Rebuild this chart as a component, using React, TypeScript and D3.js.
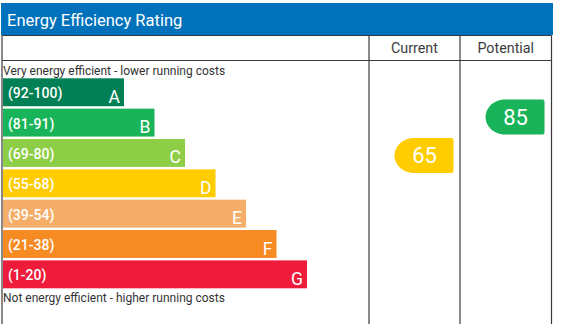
import React, { useEffect, useRef } from 'react';
import * as d3 from 'd3';

// rating bands, best to worst
const letters = ['A', 'B', 'C', 'D', 'E', 'F', 'G'];
const ranges = ['(92-100)', '(81-91)', '(69-80)', '(55-68)', '(39-54)', '(21-38)', '(1-20)'];
const colors = ['#008054', '#19b459', '#8dce46', '#ffcc00', '#f4ae6a', '#f68a23', '#ef1b3b'];

// the two ratings shown on the right
const ratingColumns = ['Current', 'Potential'];
const ratingValues = [65, 85];
const ratingLetters = ['D', 'B'];

const title = 'Energy Efficiency Rating';
const topNote = 'Very energy efficient - lower running costs';
const bottomNote = 'Not energy efficient - higher running costs';

const W = 566;
const H = 324;
const FONT = 'Roboto, "Noto Sans", sans-serif';

function EpcChart() {
  const svgRef = useRef<SVGSVGElement>(null);

  useEffect(() => {
    const svg = d3.select(svgRef.current);
    svg.selectAll('*').remove();

    const left = 2;
    const right = 551.5;
    const colX = [369, 460];
    const headTop = 35.5;
    const headBottom = 60.5;
    const lineColor = '#3a3a3a';

    // title bar
    svg.append('rect')
      .attr('x', 1).attr('y', 3)
      .attr('width', 552).attr('height', 32)
      .attr('fill', '#0072bb');
    svg.append('text')
      .attr('x', 7).attr('y', 26)
      .attr('fill', '#fff')
      .attr('font-family', FONT)
      .attr('font-size', 16.5)
      .text(title);

    // table lines
    const g = svg.append('g').attr('stroke', lineColor).attr('stroke-width', 1.2);
    g.append('line').attr('x1', left).attr('x2', right).attr('y1', headTop).attr('y2', headTop);
    g.append('line').attr('x1', left).attr('x2', right).attr('y1', headBottom).attr('y2', headBottom);
    [left, ...colX, right].forEach(x => {
      g.append('line').attr('x1', x).attr('x2', x).attr('y1', headTop).attr('y2', H);
    });

    // column headers
    const colCenters = [(colX[0] + colX[1]) / 2, (colX[1] + right) / 2];
    svg.selectAll('text.col')
      .data(ratingColumns)
      .join('text')
      .attr('class', 'col')
      .attr('x', (d, i) => colCenters[i])
      .attr('y', 52.5)
      .attr('text-anchor', 'middle')
      .attr('fill', '#3c3c3c')
      .attr('font-family', FONT)
      .attr('font-size', 14.3)
      .text(d => d);

    // notes
    svg.append('text')
      .attr('x', 3).attr('y', 75)
      .attr('fill', '#333')
      .attr('font-family', FONT)
      .attr('font-size', 12)
      .text(topNote);
    svg.append('text')
      .attr('x', 3).attr('y', 302)
      .attr('fill', '#333')
      .attr('font-family', FONT)
      .attr('font-size', 12)
      .text(bottomNote);

    // bands
    const y = d3.scaleBand<string>()
      .domain(letters)
      .range([78.3, 288.3])
      .paddingInner(0.08)
      .paddingOuter(0);
    const xRight = d3.scaleLinear()
      .domain([0, letters.length - 1])
      .range([124, 307]);

    const bands = svg.append('g')
      .selectAll('g')
      .data(letters)
      .join('g');

    bands.append('rect')
      .attr('x', 3)
      .attr('y', d => y(d)!)
      .attr('width', (d, i) => xRight(i) - 3)
      .attr('height', y.bandwidth())
      .attr('fill', (d, i) => colors[i]);

    bands.append('text')
      .attr('x', 8)
      .attr('y', d => y(d)! + 20)
      .attr('fill', '#fff')
      .attr('font-family', FONT)
      .attr('font-weight', 500)
      .attr('font-size', 14)
      .text((d, i) => ranges[i]);

    bands.append('text')
      .attr('x', (d, i) => xRight(i) - 4)
      .attr('y', d => y(d)! + 24.5)
      .attr('text-anchor', 'end')
      .attr('fill', '#fff')
      .attr('font-family', FONT)
      .attr('font-size', 17.5)
      .text(d => d);

    // rating arrows
    const ry = d3.scaleLinear().domain([100, 0]).range([88, 280.5]);
    const aw = 59;
    const ah = 35;
    const arrowPath = (x0: number, cy: number) => {
      const t = cy - ah / 2;
      const b = cy + ah / 2;
      const x1 = x0 + aw;
      const r = 2;
      return `M${x0 + 20},${t} L${x1 - r},${t} Q${x1},${t} ${x1},${t + r} ` +
        `L${x1},${b - r} Q${x1},${b} ${x1 - r},${b} L${x0 + 20},${b} ` +
        `C${x0 + 6},${b} ${x0},${cy + 7} ${x0},${cy} ` +
        `C${x0},${cy - 7} ${x0 + 6},${t} ${x0 + 20},${t} Z`;
    };

    ratingValues.forEach((v, i) => {
      const x0 = colX[i] + 25.5;
      const cy = ry(v);
      const c = colors[letters.indexOf(ratingLetters[i])];
      svg.append('path')
        .attr('d', arrowPath(x0, cy))
        .attr('fill', c);
      svg.append('text')
        .attr('x', x0 + 30)
        .attr('y', cy + 8)
        .attr('text-anchor', 'middle')
        .attr('fill', '#fff')
        .attr('font-family', FONT)
        .attr('font-size', 22)
        .text(v);
    });
  }, []);

  return (
    <svg
      ref={svgRef}
      width={W}
      height={H}
      style={{ position: 'absolute', left: 0, top: 0, display: 'block', background: '#fff' }}
    />
  );
}

export default function App() {
  return <EpcChart />;
}
